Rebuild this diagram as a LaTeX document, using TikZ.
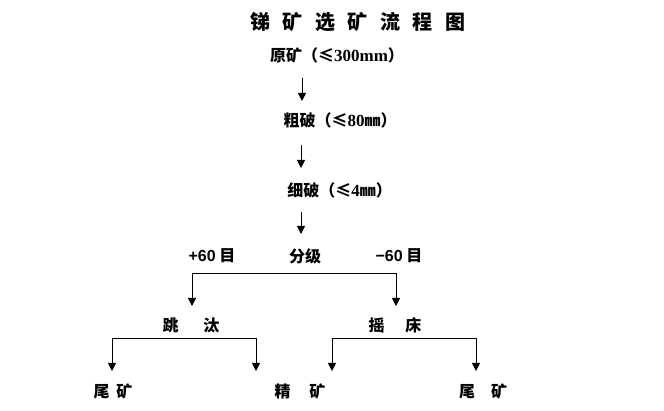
\documentclass[tikz,border=0pt]{standalone}
\usepackage{fontspec}
\setmainfont{Liberation Serif}
\newfontfamily\cjk{Noto Sans CJK SC}
\newfontfamily\lsans{Liberation Sans}
\usetikzlibrary{arrows.meta}
\tikzset{
  lbl/.style={inner sep=0pt, font=\cjk\bfseries\fontsize{16}{16}\selectfont},
  ttl/.style={inner sep=0pt, font=\cjk\bfseries\fontsize{20}{20}\selectfont},
  wire/.style={line width=0.8pt, black},
  arr/.style={wire, -{Triangle[length=8pt,width=8pt]}},
  arr2/.style={wire, {Triangle[length=8pt,width=8pt]}-{Triangle[length=8pt,width=8pt]}}
}
\begin{document}
\begin{tikzpicture}[x=1pt,y=-1pt]
\useasboundingbox (0,0) rectangle (664,411);
\fill[white] (0,0) rectangle (664,411);
% title
\node[ttl] (title) at (357.5,22) {锑\hspace{12.5pt}矿\hspace{12.5pt}选\hspace{12.5pt}矿\hspace{12.5pt}流\hspace{12.5pt}程\hspace{12.5pt}图};
% main column
\node[lbl] (raw) at (337,55) {原矿（≤{\rmfamily\bfseries\fontsize{17}{17}\selectfont 300mm}）};
\node[lbl] (coarse) at (340,120) {粗破（≤{\rmfamily\bfseries\fontsize{17}{17}\selectfont 80}㎜）};
\node[lbl] (fine) at (339.5,190) {细破（≤{\rmfamily\bfseries\fontsize{17}{17}\selectfont 4}㎜）};
\node[lbl] (plus) at (212,256) {{\lsans\bfseries +60} 目};
\node[lbl] (grade) at (305,256) {分级};
\node[lbl] (minus) at (399,256) {{\lsans\bfseries −60} 目};
\node[lbl] (jig) at (191,325) {跳\hspace{25pt}汰};
\node[lbl] (table) at (395,325) {摇\hspace{21pt}床};
\node[lbl] (tail1) at (113,391) {尾\hspace{7pt}矿};
\node[lbl] (conc) at (300,391) {精\hspace{19pt}矿};
\node[lbl] (tail2) at (483,391) {尾\hspace{16pt}矿};
% vertical arrows
\coordinate (a1s) at (302,78);  \coordinate (a1e) at (302,101);
\coordinate (a2s) at (301,145); \coordinate (a2e) at (301,168);
\coordinate (a3s) at (301,212); \coordinate (a3e) at (301,234);
\draw[arr] (a1s) -- (a1e);
\draw[arr] (a2s) -- (a2e);
\draw[arr] (a3s) -- (a3e);
% grading bracket
\coordinate (g1) at (192,306); \coordinate (g2) at (192,273);
\coordinate (g3) at (396,273); \coordinate (g4) at (396,306);
\draw[arr2] (g1) -- (g2) -- (g3) -- (g4);
% jig bracket
\coordinate (j1) at (112,371); \coordinate (j2) at (112,338);
\coordinate (j3) at (256,338); \coordinate (j4) at (256,371);
\draw[arr2] (j1) -- (j2) -- (j3) -- (j4);
% table bracket
\coordinate (t1) at (332,371); \coordinate (t2) at (332,338);
\coordinate (t3) at (476,338); \coordinate (t4) at (476,371);
\draw[arr2] (t1) -- (t2) -- (t3) -- (t4);
\end{tikzpicture}
\end{document}
